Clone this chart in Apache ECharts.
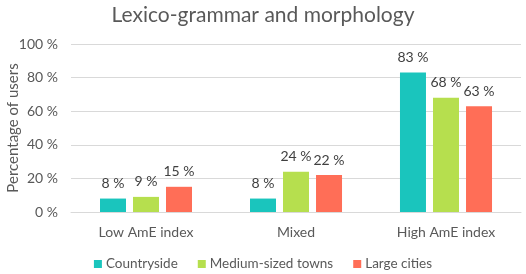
<!DOCTYPE html>
<html lang="en">
<head>
<meta charset="UTF-8">
<title>Lexico-grammar and morphology</title>
<script src="https://cdn.jsdelivr.net/npm/echarts@6/dist/echarts.min.js"></script>
<style>
  html, body { margin: 0; padding: 0; background: #fff; }
  #chart { width: 526px; height: 274px; }
</style>
</head>
<body>
<div id="chart"></div>
<script>
var categories = ['Low AmE index', 'Mixed', 'High AmE index'];
var seriesNames = ['Countryside', 'Medium-sized towns', 'Large cities'];
var countryside = [8, 8, 83];
var mediumTowns = [9, 24, 68];
var largeCities = [15, 22, 63];
var colors = ['#1AC5BD', '#B6DF4E', '#FF6E57'];

var font = 'Lato';
var textColor = '#595959';

function makeSeries(name, data, color) {
  return {
    name: name,
    type: 'bar',
    data: data,
    barWidth: 26,
    barGap: '27%',
    itemStyle: { color: color },
    label: {
      show: true,
      position: 'top',
      distance: 8,
      formatter: '{c} %',
      color: '#404040',
      fontFamily: font,
      fontSize: 14
    }
  };
}

var chart = echarts.init(document.getElementById('chart'));
chart.setOption({
  animation: false,
  title: {
    text: 'Lexico-grammar and morphology',
    left: 'center',
    top: 0,
    textStyle: { fontFamily: font, fontSize: 21, fontWeight: 'normal', color: textColor }
  },
  legend: {
    bottom: -2,
    left: 'center',
    itemWidth: 8,
    itemHeight: 8,
    itemGap: 20,
    icon: 'rect',
    textStyle: { fontFamily: font, fontSize: 13.5, color: textColor, padding: [0, 0, 0, -1] },
    data: seriesNames
  },
  grid: { left: 71, right: 5, top: 44, bottom: 62, outerBoundsMode: 'none' },
  xAxis: {
    type: 'category',
    data: categories,
    axisLine: { lineStyle: { color: '#D9D9D9' } },
    axisTick: { show: false },
    axisLabel: { fontFamily: font, fontSize: 14, color: textColor, margin: 13 }
  },
  yAxis: {
    type: 'value',
    min: 0,
    max: 100,
    interval: 20,
    name: 'Percentage of users',
    nameLocation: 'middle',
    nameGap: 50,
    nameMoveOverlap: false,
    nameTextStyle: { fontFamily: font, fontSize: 15, color: textColor },
    axisLine: { show: false },
    axisTick: { show: false },
    splitLine: { lineStyle: { color: '#D9D9D9' } },
    axisLabel: { fontFamily: font, fontSize: 14, color: textColor, margin: 13, formatter: '{value} %' }
  },
  series: [
    makeSeries(seriesNames[0], countryside, colors[0]),
    makeSeries(seriesNames[1], mediumTowns, colors[1]),
    makeSeries(seriesNames[2], largeCities, colors[2])
  ]
});
</script>
</body>
</html>
